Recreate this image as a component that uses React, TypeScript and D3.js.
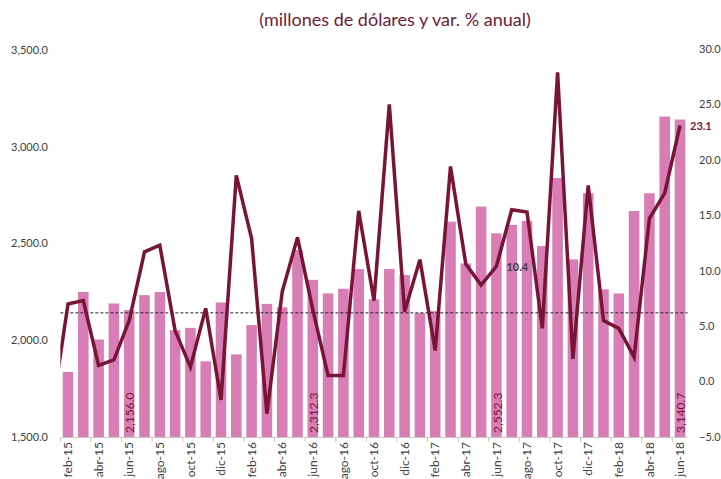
import * as d3 from 'd3';

const categories = [
  'feb-15', 'mar-15', 'abr-15', 'may-15', 'jun-15', 'jul-15', 'ago-15', 'sep-15', 'oct-15', 'nov-15', 'dic-15',
  'ene-16', 'feb-16', 'mar-16', 'abr-16', 'may-16', 'jun-16', 'jul-16', 'ago-16', 'sep-16', 'oct-16', 'nov-16', 'dic-16',
  'ene-17', 'feb-17', 'mar-17', 'abr-17', 'may-17', 'jun-17', 'jul-17', 'ago-17', 'sep-17', 'oct-17', 'nov-17', 'dic-17',
  'ene-18', 'feb-18', 'mar-18', 'abr-18', 'may-18', 'jun-18',
];

// millones de dólares
const amounts = [
  1836, 2250, 2004, 2190, 2156.0, 2233, 2249, 2052, 2064, 1891, 2195,
  1927, 2078, 2188, 2170, 2466, 2312.3, 2242, 2266, 2368, 2212, 2368, 2337,
  2140, 2150, 2613, 2397, 2691, 2552.3, 2596, 2617, 2487, 2838, 2418, 2760,
  2263, 2242, 2668, 2760, 3156, 3140.7,
];

// var. % anual
const growth = [
  7.0, 7.3, 1.45, 1.96, 5.5, 11.7, 12.3, 4.6, 1.3, 6.6, -1.65,
  18.6, 12.9, -2.9, 8.1, 13.0, 6.5, 0.54, 0.54, 15.4, 7.3, 25.0, 6.3,
  11.0, 2.8, 19.4, 10.6, 8.7, 10.4, 15.5, 15.3, 4.8, 27.9, 2.05, 17.7,
  5.5, 4.8, 2.2, 14.7, 17.0, 23.1,
];

const growthBefore = -2.3; // ene-15, only the first segment shows
const growthAverage = 6.2;

const labelledBars = ['jun-15', 'jun-16', 'jun-17', 'jun-18'];
const labelledPoints = ['jun-17', 'jun-18'];
const leftTicks = [1500, 2000, 2500, 3000, 3500];
const rightTicks = [-5, 0, 5, 10, 15, 20, 25, 30];

const width = 721;
const height = 479;
const font = "Lato, 'Open Sans', sans-serif";
const barColor = '#d87db5';
const lineColor = '#781436';
const textColor = '#404040';

export default function App() {
  const x = d3.scaleBand(categories, [60.35, 687.65]).paddingInner(0.31).paddingOuter(0.155);
  const centre = (c: string) => (x(c) ?? 0) + x.bandwidth() / 2;
  const yL = d3.scaleLinear([1500, 3500], [437, 50]);
  const yR = d3.scaleLinear([-5, 30], [437, 49]);
  const fmtL = d3.format(',.1f');
  const fmtR = d3.format('.1f');

  const pts: [number, number][] = [
    [centre(categories[0]) - x.step(), yR(growthBefore)],
    ...categories.map((c, i) => [centre(c), yR(growth[i])] as [number, number]),
  ];
  const line = d3.line();
  const [x0, x1] = x.range();
  const gap = (x.step() - x.bandwidth()) / 2;

  return (
    <svg width={width} height={height} style={{ position: 'absolute', left: 0, top: 0, background: '#fff' }}
      fontFamily={font}>
      <defs>
        <clipPath id="plot">
          <rect x={x0} y={0} width={width - x0} height={height} />
        </clipPath>
      </defs>

      <text x={395} y={26} textAnchor="middle" fontSize={18} fill="#6b2139">
        (millones de dólares y var. % anual)
      </text>

      {leftTicks.map((t) => (
        <text key={t} x={48} y={yL(t)} dy="0.35em" textAnchor="end" fontSize={11} fill={textColor}>
          {fmtL(t)}
        </text>
      ))}
      {rightTicks.map((t) => (
        <text key={t} x={699} y={yR(t)} dy="0.35em" fontSize={11} fill={textColor}>
          {fmtR(t)}
        </text>
      ))}

      <g fill={barColor}>
        {categories.map((c, i) => (
          <rect key={c} x={x(c)} y={yL(amounts[i])} width={x.bandwidth()} height={yL(1500) - yL(amounts[i])} />
        ))}
      </g>

      <line x1={x0} x2={x1} y1={yL(1500) + 0.5} y2={yL(1500) + 0.5} stroke="#c8c8c8" />
      {categories.map((c, i) =>
        i % 2 === 0 ? (
          <line key={c} x1={x(c)! - gap} x2={x(c)! - gap} y1={yL(1500)} y2={yL(1500) + 5} stroke="#c8c8c8" />
        ) : null,
      )}
      {categories.map((c, i) =>
        i % 2 === 0 ? (
          <text key={c} transform={`translate(${centre(c)},${yL(1500) + 5}) rotate(-90)`} dy="0.35em"
            textAnchor="end" fontSize={12} fill={textColor}>
            {c}
          </text>
        ) : null,
      )}

      <line x1={x0} x2={x1} y1={yR(growthAverage)} y2={yR(growthAverage)} stroke="#222" strokeDasharray="3,2" />

      <path d={line(pts) ?? ''} fill="none" stroke={lineColor} strokeWidth={3.5} strokeLinejoin="miter"
        clipPath="url(#plot)" />

      {labelledBars.map((c) => (
        <text key={c} transform={`translate(${centre(c) + 1},${yL(1500) - 4}) rotate(-90)`} dy="0.35em"
          fontSize={12} fill={lineColor}>
          {fmtL(amounts[categories.indexOf(c)])}
        </text>
      ))}
      {labelledPoints.map((c, k) => (
        <text key={c} x={centre(c) + 10} y={yR(growth[categories.indexOf(c)]) + 1} dy="0.35em"
          fontSize={11} fontWeight="bold" fill={k === 0 ? textColor : lineColor}>
          {fmtR(growth[categories.indexOf(c)])}
        </text>
      ))}
    </svg>
  );
}
